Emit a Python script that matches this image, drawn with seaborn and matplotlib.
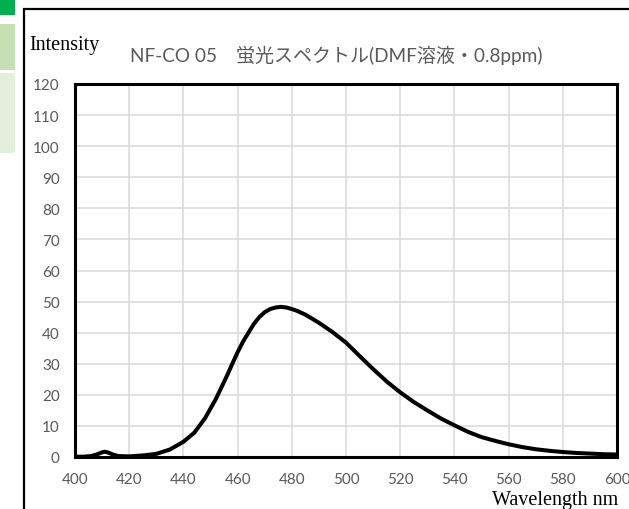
import pandas as pd
import matplotlib.pyplot as plt
import seaborn as sns
from matplotlib.patches import Rectangle

# spectrum
wavelength = [400, 403, 406, 408, 410, 411, 412, 414, 416, 420, 425, 430, 435,
              440, 444, 448, 452, 456, 458, 460, 462, 464, 466, 468, 470, 472, 474,
              476, 478, 480, 482, 485, 490,
              495, 500, 505, 510, 515, 520, 525, 530, 535, 540, 545, 550, 555,
              560, 565, 570, 575, 580, 585, 590, 595, 600]
intensity = [0.1, 0.1, 0.3, 0.8, 1.5, 1.7, 1.5, 0.8, 0.3, 0.2, 0.5, 1.0, 2.4,
             4.9, 7.8, 12.5, 18.7, 26.0, 29.9, 33.7, 37.1, 40.0, 42.8, 45.0, 46.6, 47.6, 48.1,
             48.3, 48.1, 47.6, 47.0, 45.8, 43.2,
             40.2, 36.8, 32.5, 28.3, 24.3, 20.8, 17.7, 15.0, 12.4, 10.2, 8.1, 6.4, 5.2,
             4.1, 3.2, 2.5, 2.0, 1.6, 1.3, 1.1, 0.9, 0.8]

x_ticks = list(range(400, 601, 20))
y_ticks = list(range(0, 121, 10))

titulo = 'NF-CO 05\u3000蛍光スペクトル(DMF溶液・0.8ppm)'

df = pd.DataFrame({'wl': wavelength, 'I': intensity})

sns.set_theme(style="white")
plt.rcParams['font.family'] = ['Lato', 'Noto Sans CJK JP', 'DejaVu Sans']

fig = plt.figure(figsize=(6.29, 5.10), dpi=100)

# spreadsheet cells peeking in on the left
fig.patches.append(Rectangle((0, 1 - 16 / 510), 15 / 629, 16 / 510, transform=fig.transFigure,
                             facecolor='#00B050', edgecolor='none'))
fig.patches.append(Rectangle((0, 1 - 71 / 510), 15 / 629, 46 / 510, transform=fig.transFigure,
                             facecolor='#C6E0B4', edgecolor='none'))
fig.patches.append(Rectangle((0, 1 - 154 / 510), 15 / 629, 80 / 510, transform=fig.transFigure,
                             facecolor='#E2EFDA', edgecolor='none'))
# chart frame
fig.patches.append(Rectangle((24 / 629, -0.1), 1.0, 1 - 10 / 510 + 0.1, transform=fig.transFigure,
                             facecolor='none', edgecolor='black', linewidth=1.6))

ax = fig.add_axes([75 / 629, 52 / 510, 542 / 629, 373 / 510])

sns.lineplot(data=df, x='wl', y='I', ax=ax, color='black', linewidth=2.9, zorder=3)

ax.set_xlim(400, 600)
ax.set_ylim(0, 120)
ax.set_xticks(x_ticks)
ax.set_yticks(y_ticks)
ax.grid(True, color='#D9D9D9', linewidth=1.1)
ax.set_axisbelow(True)
for s in ax.spines.values():
    s.set_color('black')
    s.set_linewidth(2.2)
ax.tick_params(length=0, labelsize=11, labelcolor='#595959', pad=11)
ax.set_xlabel('')
ax.set_ylabel('')

fig.text(29 / 629, 1 - 50 / 510, 'Intensity', family=['Liberation Serif'], fontsize=14.5,
         color='black', ha='left', va='baseline')
fig.text(618 / 629, 5 / 510, 'Wavelength nm', family=['Liberation Serif'], fontsize=14.5,
         color='black', ha='right', va='baseline')
fig.text(130 / 629, 1 - 62 / 510, titulo, fontsize=13.7, color='#595959',
         family=['Lato', 'Noto Sans CJK JP'], ha='left', va='baseline')

plt.savefig('out.png', dpi=100)
